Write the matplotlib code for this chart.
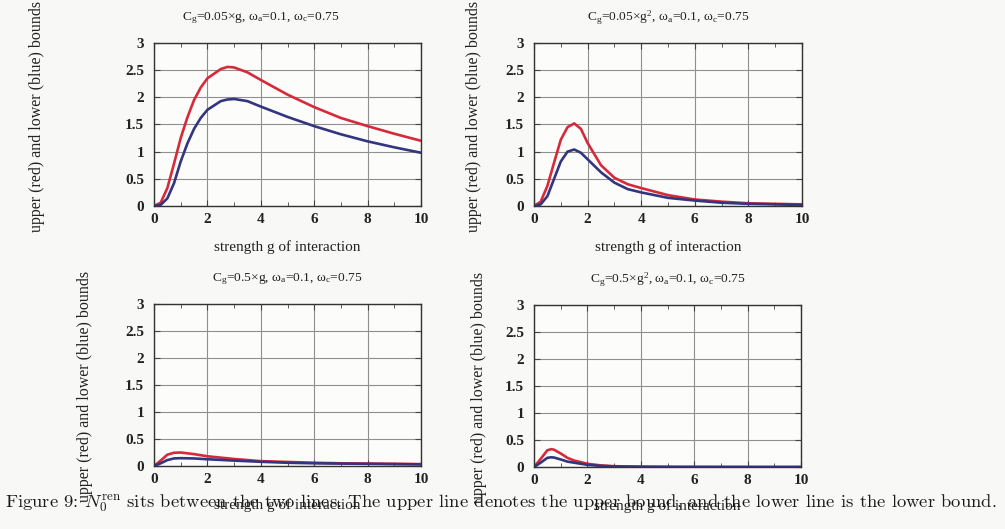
import matplotlib
matplotlib.use('Agg')
import matplotlib.pyplot as plt
from matplotlib.ticker import MultipleLocator

plt.rcParams['font.family'] = ['Liberation Serif', 'DejaVu Serif']
plt.rcParams['mathtext.fontset'] = 'custom'
plt.rcParams['mathtext.rm'] = 'Liberation Serif'
plt.rcParams['mathtext.it'] = 'Liberation Serif:italic'

# data
g_a = [0, 0.25, 0.5, 0.75, 1, 1.25, 1.5, 1.75, 2, 2.5, 2.75, 3, 3.5, 4, 5, 6, 7, 8, 9, 10]
upper_a = [0, 0.06, 0.33, 0.78, 1.25, 1.63, 1.95, 2.18, 2.35, 2.52, 2.56, 2.55, 2.46, 2.32, 2.05, 1.82, 1.62, 1.47, 1.33, 1.20]
lower_a = [0, 0.02, 0.14, 0.42, 0.82, 1.15, 1.42, 1.62, 1.77, 1.93, 1.96, 1.97, 1.93, 1.83, 1.64, 1.47, 1.32, 1.19, 1.08, 0.98]

g_b = [0, 0.25, 0.5, 0.75, 1, 1.25, 1.5, 1.75, 2, 2.5, 3, 3.5, 4, 5, 6, 7, 8, 9, 10]
upper_b = [0, 0.08, 0.37, 0.80, 1.22, 1.45, 1.52, 1.42, 1.16, 0.75, 0.52, 0.40, 0.33, 0.20, 0.12, 0.08, 0.05, 0.04, 0.03]
lower_b = [0, 0.03, 0.18, 0.50, 0.82, 1.00, 1.04, 0.98, 0.86, 0.62, 0.43, 0.31, 0.25, 0.15, 0.10, 0.06, 0.04, 0.03, 0.02]

g_c = [0, 0.25, 0.5, 0.75, 1, 1.5, 2, 3, 4, 5, 6, 7, 8, 9, 10]
upper_c = [0, 0.10, 0.21, 0.245, 0.25, 0.22, 0.18, 0.13, 0.09, 0.075, 0.06, 0.05, 0.045, 0.04, 0.035]
lower_c = [0, 0.05, 0.11, 0.14, 0.145, 0.14, 0.125, 0.10, 0.078, 0.06, 0.05, 0.045, 0.04, 0.035, 0.03]

g_d = [0, 0.25, 0.5, 0.65, 0.75, 1, 1.25, 1.5, 2, 2.5, 3, 4, 5, 6, 8, 10]
upper_d = [0, 0.15, 0.31, 0.33, 0.32, 0.25, 0.17, 0.12, 0.06, 0.03, 0.015, 0.005, 0.002, 0.001, 0, 0]
lower_d = [0, 0.08, 0.17, 0.18, 0.175, 0.14, 0.10, 0.08, 0.04, 0.02, 0.01, 0.004, 0.002, 0.001, 0, 0]

titles = [r'C$_{\rm g}$=0.05×g, ω$_{\rm a}$=0.1, ω$_{\rm c}$=0.75',
          r'C$_{\rm g}$=0.05×g$^{2}$, ω$_{\rm a}$=0.1, ω$_{\rm c}$=0.75',
          r'C$_{\rm g}$=0.5×g, ω$_{\rm a}$=0.1, ω$_{\rm c}$=0.75',
          r'C$_{\rm g}$=0.5×g$^{2}$, ω$_{\rm a}$=0.1, ω$_{\rm c}$=0.75']
ylab = 'upper (red) and lower (blue) bounds'
xlab = 'strength g of interaction'
caption = (r'Figure 9: $N_0^{\rm ren}$ sits between the two lines. The upper line denotes '
           'the upper bound, and the lower line is the lower bound.')

W, H = 1005, 529
fig = plt.figure(figsize=(W / 100, H / 100), dpi=100, facecolor='#f8f8f6')

# left, top, right, bottom in pixels, title x, ylabel x
boxes = [(154, 43, 421, 206, 0.40, -0.41),
         (534, 43, 802, 206, 0.50, -0.195),
         (154, 304, 421, 466, 0.50, -0.228),
         (534, 305, 801, 467, 0.50, -0.176)]
series = [(g_a, upper_a, lower_a), (g_b, upper_b, lower_b),
          (g_c, upper_c, lower_c), (g_d, upper_d, lower_d)]

for i, (l, t, r, b, tx, yx) in enumerate(boxes):
    ax = fig.add_axes([l / W, 1 - b / H, (r - l) / W, (b - t) / H])
    ax.set_facecolor('#fcfcfb')
    g, up, lo = series[i]
    ax.plot(g, up, color='#d62a3a', lw=1.9)
    ax.plot(g, lo, color='#33357e', lw=1.9)
    ax.set_xlim(0, 10)
    ax.set_ylim(0, 3)
    ax.xaxis.set_major_locator(MultipleLocator(2))
    ax.xaxis.set_minor_locator(MultipleLocator(1))
    ax.yaxis.set_major_locator(MultipleLocator(0.5))
    ax.yaxis.set_major_formatter(plt.FuncFormatter(lambda v, p: ('%g' % v)))
    ax.grid(True, color='#8f8f8f', lw=0.8)
    ax.tick_params(which='both', direction='in', top=True, right=True, color='#444444')
    ax.tick_params(which='major', length=4)
    ax.tick_params(which='minor', length=3)
    ax.tick_params(axis='x', pad=5, labelsize=11)
    ax.tick_params(axis='y', pad=7, labelsize=11)
    for lab in ax.get_xticklabels() + ax.get_yticklabels():
        lab.set_fontweight('bold')
        lab.set_color('#222222')
    for s in ax.spines.values():
        s.set_color('#333333')
        s.set_linewidth(1.0)
    hgt = b - t
    ax.text(tx, 1 + 25 / hgt, titles[i], transform=ax.transAxes, ha='center',
            va='center', fontsize=9.7, color='#222222')
    ax.set_ylabel(ylab, fontsize=11.5, color='#222222')
    ax.yaxis.set_label_coords(yx, 0.55 if i < 2 else 0.49)
    ax.set_xlabel(xlab, fontsize=11, color='#222222')
    ax.xaxis.set_label_coords(0.5, -34 / hgt if i < 2 else -32 / hgt)

fig.text(5 / W, 1 - 503 / H, caption, ha='left', va='center', fontsize=13.4,
         family=['cmr10', 'DejaVu Serif'], math_fontfamily='cm', color='#1a1a1a')

fig.savefig('out.png', dpi=100, facecolor=fig.get_facecolor())
